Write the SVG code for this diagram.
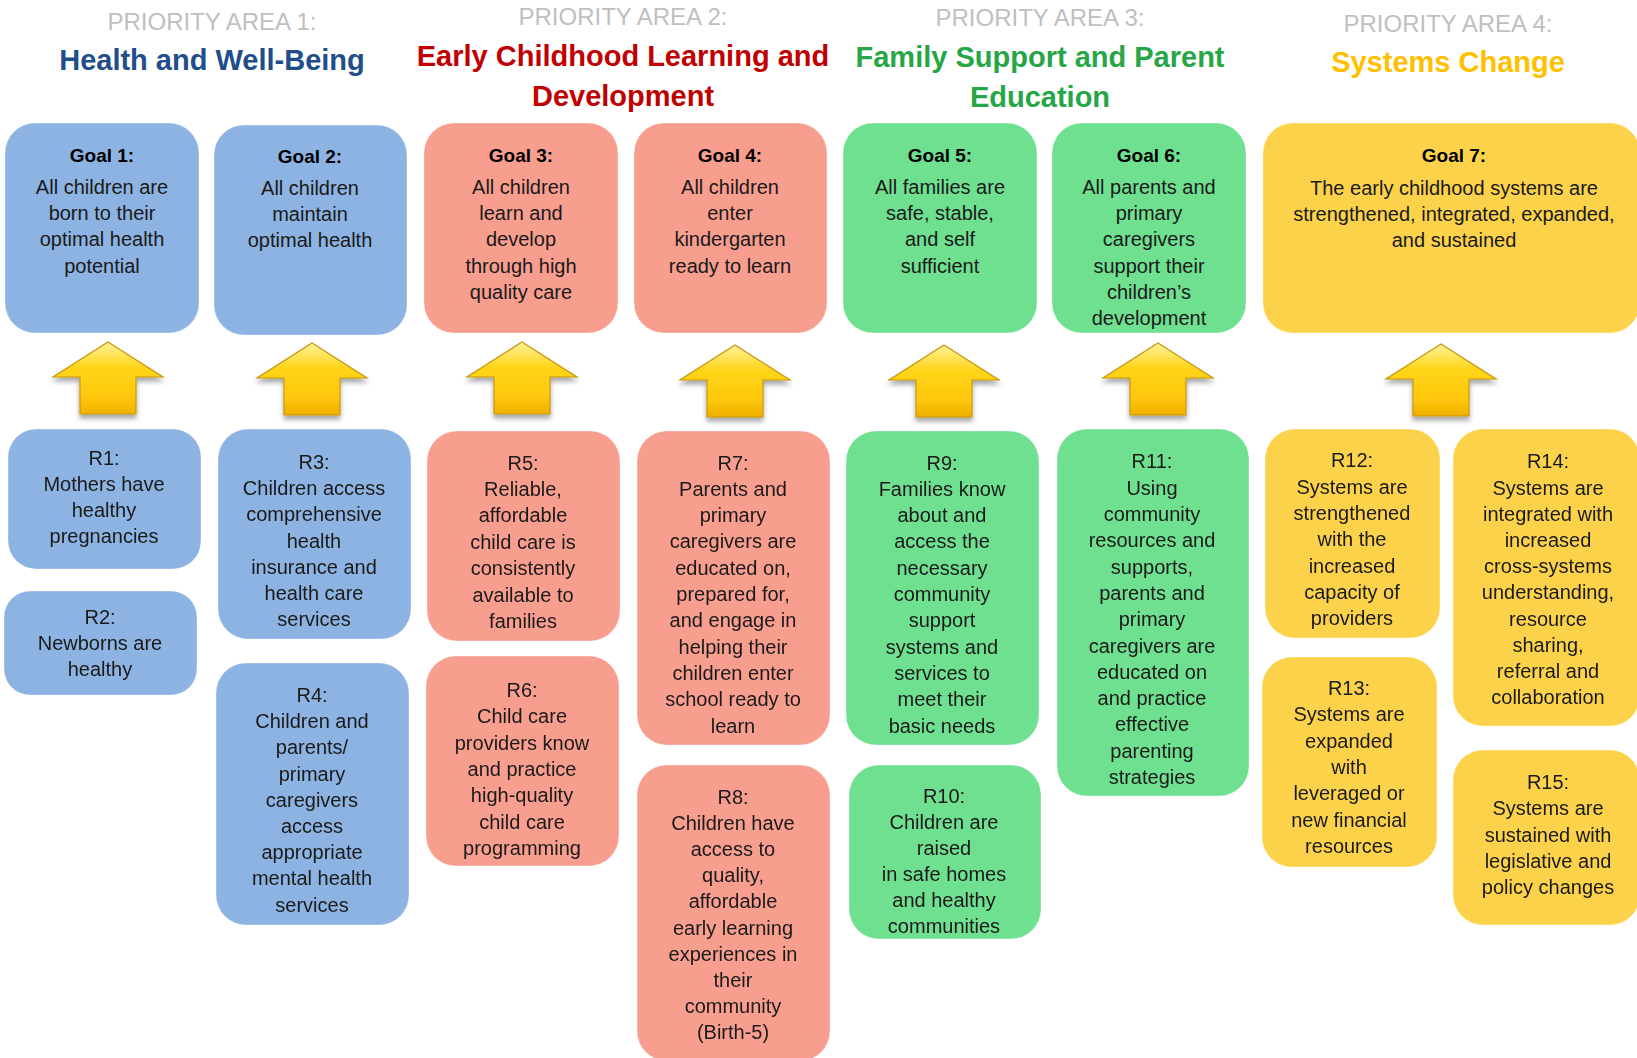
<svg xmlns="http://www.w3.org/2000/svg" width="1637" height="1058" viewBox="0 0 1637 1058">
<style>
  text { font-family: "Liberation Sans", Arial, sans-serif; text-anchor: middle; }
  .pa { font-size: 24px; fill: #bfbfbf; }
  .title { font-size: 29px; font-weight: bold; }
  .t1 { fill: #1f4e89; }
  .t2 { fill: #c00000; }
  .t3 { fill: #26a646; }
  .t4 { fill: #ffc000; }
  .gl { font-size: 19px; font-weight: bold; fill: #000; }
  .bd { font-size: 20px; fill: #1a1a1a; }
  .blue { fill: #8db3e2; }
  .red { fill: #f89e8f; }
  .green { fill: #6fdf90; }
  .yellow { fill: #fdd24b; }
  .box { stroke: #ffffff; stroke-opacity: 0.35; stroke-width: 1; }
</style>
<defs>
  <linearGradient id="arrowGrad" x1="0" y1="0" x2="0" y2="1">
    <stop offset="0" stop-color="#fff29a"/>
    <stop offset="0.35" stop-color="#ffd51a"/>
    <stop offset="0.75" stop-color="#ffc80a"/>
    <stop offset="1" stop-color="#f0b000"/>
  </linearGradient>
  <filter id="shadow" x="-30%" y="-30%" width="160%" height="170%">
    <feDropShadow dx="0" dy="4" stdDeviation="2.5" flood-color="#000" flood-opacity="0.35"/>
  </filter>
  <path id="arrow" d="M0,0 L55,35 L28,35 L28,72 L-28,72 L-28,35 L-55,35 Z" fill="url(#arrowGrad)" stroke="#c8960c" stroke-width="1.2" stroke-linejoin="miter"/>
</defs>

<!-- Headers -->
<g id="header1">
  <text class="pa" x="212" y="30">PRIORITY AREA 1:</text>
  <text class="title t1" x="212" y="70">Health and Well-Being</text>
</g>
<g id="header2">
  <text class="pa" x="623" y="25">PRIORITY AREA 2:</text>
  <text class="title t2" x="623" y="66">Early Childhood Learning and</text>
  <text class="title t2" x="623" y="106">Development</text>
</g>
<g id="header3">
  <text class="pa" x="1040" y="26">PRIORITY AREA 3:</text>
  <text class="title t3" x="1040" y="67">Family Support and Parent</text>
  <text class="title t3" x="1040" y="107">Education</text>
</g>
<g id="header4">
  <text class="pa" x="1448" y="32">PRIORITY AREA 4:</text>
  <text class="title t4" x="1448" y="72">Systems Change</text>
</g>

<!-- Goals -->
<g id="goal1">
  <rect class="box blue" x="5" y="123" width="194" height="210" rx="30"/>
  <text class="gl" x="102" y="162">Goal 1:</text>
  <text class="bd" x="102" y="194">All children are<tspan x="102" dy="26.2">born to their</tspan><tspan x="102" dy="26.2">optimal health</tspan><tspan x="102" dy="26.2">potential</tspan></text>
</g>
<g id="goal2">
  <rect class="box blue" x="214" y="125" width="193" height="210" rx="30"/>
  <text class="gl" x="310" y="163">Goal 2:</text>
  <text class="bd" x="310" y="195">All children<tspan x="310" dy="26.2">maintain</tspan><tspan x="310" dy="26.2">optimal health</tspan></text>
</g>
<g id="goal3">
  <rect class="box red" x="424" y="123" width="194" height="210" rx="30"/>
  <text class="gl" x="521" y="162">Goal 3:</text>
  <text class="bd" x="521" y="194">All children<tspan x="521" dy="26.2">learn and</tspan><tspan x="521" dy="26.2">develop</tspan><tspan x="521" dy="26.2">through high</tspan><tspan x="521" dy="26.2">quality care</tspan></text>
</g>
<g id="goal4">
  <rect class="box red" x="634" y="123" width="193" height="210" rx="30"/>
  <text class="gl" x="730" y="162">Goal 4:</text>
  <text class="bd" x="730" y="194">All children<tspan x="730" dy="26.2">enter</tspan><tspan x="730" dy="26.2">kindergarten</tspan><tspan x="730" dy="26.2">ready to learn</tspan></text>
</g>
<g id="goal5">
  <rect class="box green" x="843" y="123" width="194" height="210" rx="30"/>
  <text class="gl" x="940" y="162">Goal 5:</text>
  <text class="bd" x="940" y="194">All families are<tspan x="940" dy="26.2">safe, stable,</tspan><tspan x="940" dy="26.2">and self</tspan><tspan x="940" dy="26.2">sufficient</tspan></text>
</g>
<g id="goal6">
  <rect class="box green" x="1052" y="123" width="194" height="210" rx="30"/>
  <text class="gl" x="1149" y="162">Goal 6:</text>
  <text class="bd" x="1149" y="194">All parents and<tspan x="1149" dy="26.2">primary</tspan><tspan x="1149" dy="26.2">caregivers</tspan><tspan x="1149" dy="26.2">support their</tspan><tspan x="1149" dy="26.2">children’s</tspan><tspan x="1149" dy="26.2">development</tspan></text>
</g>
<g id="goal7">
  <rect class="box yellow" x="1263" y="123" width="377" height="210" rx="30"/>
  <text class="gl" x="1454" y="162">Goal 7:</text>
  <text class="bd" x="1454" y="195">The early childhood systems are<tspan x="1454" dy="26.2">strengthened, integrated, expanded,</tspan><tspan x="1454" dy="26.2">and sustained</tspan></text>
</g>

<!-- Connectors (arrows) -->
<g id="connectors" filter="url(#shadow)">
  <use href="#arrow" transform="translate(108,342)"/>
  <use href="#arrow" transform="translate(312,343)"/>
  <use href="#arrow" transform="translate(522,342)"/>
  <use href="#arrow" transform="translate(735,345)"/>
  <use href="#arrow" transform="translate(944,345)"/>
  <use href="#arrow" transform="translate(1158,343)"/>
  <use href="#arrow" transform="translate(1441,344)"/>
</g>

<!-- Results -->
<g id="r1">
  <rect class="box blue" x="8" y="429" width="193" height="140" rx="28"/>
  <text class="bd" x="104" y="465">R1:<tspan x="104" dy="26">Mothers have</tspan><tspan x="104" dy="26">healthy</tspan><tspan x="104" dy="26">pregnancies</tspan></text>
</g>
<g id="r2">
  <rect class="box blue" x="4" y="591" width="193" height="104" rx="26"/>
  <text class="bd" x="100" y="624">R2:<tspan x="100" dy="26">Newborns are</tspan><tspan x="100" dy="26">healthy</tspan></text>
</g>
<g id="r3">
  <rect class="box blue" x="218" y="429" width="193" height="210" rx="30"/>
  <text class="bd" x="314" y="469">R3:<tspan x="314" dy="26.2">Children access</tspan><tspan x="314" dy="26.2">comprehensive</tspan><tspan x="314" dy="26.2">health</tspan><tspan x="314" dy="26.2">insurance and</tspan><tspan x="314" dy="26.2">health care</tspan><tspan x="314" dy="26.2">services</tspan></text>
</g>
<g id="r4">
  <rect class="box blue" x="216" y="663" width="193" height="262" rx="30"/>
  <text class="bd" x="312" y="702">R4:<tspan x="312" dy="26.2">Children and</tspan><tspan x="312" dy="26.2">parents/</tspan><tspan x="312" dy="26.2">primary</tspan><tspan x="312" dy="26.2">caregivers</tspan><tspan x="312" dy="26.2">access</tspan><tspan x="312" dy="26.2">appropriate</tspan><tspan x="312" dy="26.2">mental health</tspan><tspan x="312" dy="26.2">services</tspan></text>
</g>
<g id="r5">
  <rect class="box red" x="427" y="431" width="193" height="210" rx="30"/>
  <text class="bd" x="523" y="469.5">R5:<tspan x="523" dy="26.4">Reliable,</tspan><tspan x="523" dy="26.4">affordable</tspan><tspan x="523" dy="26.4">child care is</tspan><tspan x="523" dy="26.4">consistently</tspan><tspan x="523" dy="26.4">available to</tspan><tspan x="523" dy="26.4">families</tspan></text>
</g>
<g id="r6">
  <rect class="box red" x="426" y="656" width="193" height="210" rx="30"/>
  <text class="bd" x="522" y="697">R6:<tspan x="522" dy="26.3">Child care</tspan><tspan x="522" dy="26.3">providers know</tspan><tspan x="522" dy="26.3">and practice</tspan><tspan x="522" dy="26.3">high-quality</tspan><tspan x="522" dy="26.3">child care</tspan><tspan x="522" dy="26.3">programming</tspan></text>
</g>
<g id="r7">
  <rect class="box red" x="637" y="431" width="193" height="314" rx="30"/>
  <text class="bd" x="733" y="469.5">R7:<tspan x="733" dy="26.3">Parents and</tspan><tspan x="733" dy="26.3">primary</tspan><tspan x="733" dy="26.3">caregivers are</tspan><tspan x="733" dy="26.3">educated on,</tspan><tspan x="733" dy="26.3">prepared for,</tspan><tspan x="733" dy="26.3">and engage in</tspan><tspan x="733" dy="26.3">helping their</tspan><tspan x="733" dy="26.3">children enter</tspan><tspan x="733" dy="26.3">school ready to</tspan><tspan x="733" dy="26.3">learn</tspan></text>
</g>
<g id="r8">
  <rect class="box red" x="637" y="765" width="193" height="296" rx="30"/>
  <text class="bd" x="733" y="803.5">R8:<tspan x="733" dy="26.2">Children have</tspan><tspan x="733" dy="26.2">access to</tspan><tspan x="733" dy="26.2">quality,</tspan><tspan x="733" dy="26.2">affordable</tspan><tspan x="733" dy="26.2">early learning</tspan><tspan x="733" dy="26.2">experiences in</tspan><tspan x="733" dy="26.2">their</tspan><tspan x="733" dy="26.2">community</tspan><tspan x="733" dy="26.2">(Birth-5)</tspan></text>
</g>
<g id="r9">
  <rect class="box green" x="846" y="431" width="193" height="314" rx="30"/>
  <text class="bd" x="942" y="469.5">R9:<tspan x="942" dy="26.3">Families know</tspan><tspan x="942" dy="26.3">about and</tspan><tspan x="942" dy="26.3">access the</tspan><tspan x="942" dy="26.3">necessary</tspan><tspan x="942" dy="26.3">community</tspan><tspan x="942" dy="26.3">support</tspan><tspan x="942" dy="26.3">systems and</tspan><tspan x="942" dy="26.3">services to</tspan><tspan x="942" dy="26.3">meet their</tspan><tspan x="942" dy="26.3">basic needs</tspan></text>
</g>
<g id="r10">
  <rect class="box green" x="849" y="765" width="192" height="174" rx="30"/>
  <text class="bd" x="944" y="802.5">R10:<tspan x="944" dy="26.1">Children are</tspan><tspan x="944" dy="26.1">raised</tspan><tspan x="944" dy="26.1">in safe homes</tspan><tspan x="944" dy="26.1">and healthy</tspan><tspan x="944" dy="26.1">communities</tspan></text>
</g>
<g id="r11">
  <rect class="box green" x="1057" y="429" width="192" height="367" rx="30"/>
  <text class="bd" x="1152" y="468.4">R11:<tspan x="1152" dy="26.3">Using</tspan><tspan x="1152" dy="26.3">community</tspan><tspan x="1152" dy="26.3">resources and</tspan><tspan x="1152" dy="26.3">supports,</tspan><tspan x="1152" dy="26.3">parents and</tspan><tspan x="1152" dy="26.3">primary</tspan><tspan x="1152" dy="26.3">caregivers are</tspan><tspan x="1152" dy="26.3">educated on</tspan><tspan x="1152" dy="26.3">and practice</tspan><tspan x="1152" dy="26.3">effective</tspan><tspan x="1152" dy="26.3">parenting</tspan><tspan x="1152" dy="26.3">strategies</tspan></text>
</g>
<g id="r12">
  <rect class="box yellow" x="1265" y="429" width="175" height="209" rx="30"/>
  <text class="bd" x="1352" y="467.4">R12:<tspan x="1352" dy="26.3">Systems are</tspan><tspan x="1352" dy="26.3">strengthened</tspan><tspan x="1352" dy="26.3">with the</tspan><tspan x="1352" dy="26.3">increased</tspan><tspan x="1352" dy="26.3">capacity of</tspan><tspan x="1352" dy="26.3">providers</tspan></text>
</g>
<g id="r13">
  <rect class="box yellow" x="1262" y="657" width="175" height="210" rx="30"/>
  <text class="bd" x="1349" y="695">R13:<tspan x="1349" dy="26.3">Systems are</tspan><tspan x="1349" dy="26.3">expanded</tspan><tspan x="1349" dy="26.3">with</tspan><tspan x="1349" dy="26.3">leveraged or</tspan><tspan x="1349" dy="26.3">new financial</tspan><tspan x="1349" dy="26.3">resources</tspan></text>
</g>
<g id="r14">
  <rect class="box yellow" x="1453" y="429" width="187" height="297" rx="30"/>
  <text class="bd" x="1548" y="468.4">R14:<tspan x="1548" dy="26.2">Systems are</tspan><tspan x="1548" dy="26.2">integrated with</tspan><tspan x="1548" dy="26.2">increased</tspan><tspan x="1548" dy="26.2">cross-systems</tspan><tspan x="1548" dy="26.2">understanding,</tspan><tspan x="1548" dy="26.2">resource</tspan><tspan x="1548" dy="26.2">sharing,</tspan><tspan x="1548" dy="26.2">referral  and</tspan><tspan x="1548" dy="26.2">collaboration</tspan></text>
</g>
<g id="r15">
  <rect class="box yellow" x="1453" y="750" width="187" height="175" rx="30"/>
  <text class="bd" x="1548" y="789">R15:<tspan x="1548" dy="26.25">Systems are</tspan><tspan x="1548" dy="26.25">sustained with</tspan><tspan x="1548" dy="26.25">legislative and</tspan><tspan x="1548" dy="26.25">policy changes</tspan></text>
</g>
</svg>
